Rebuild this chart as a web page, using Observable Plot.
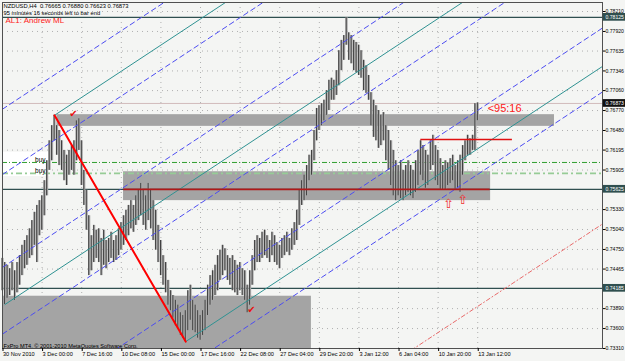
<!DOCTYPE html>
<html><head><meta charset="utf-8">
<script src="https://cdn.jsdelivr.net/npm/d3@7"></script>
<script src="https://cdn.jsdelivr.net/npm/@observablehq/plot@0.6"></script>
<style>html,body{margin:0;padding:0;background:#f4f5f3;overflow:hidden}</style>
</head><body><div id="chart"></div>
<script>
// ---- bar data (NZDUSD H4), one entry per bar ----
const hi = [
0.7462,0.7456,0.7452,0.7447,0.7456,0.7444,0.7456,0.7466,0.7481,0.7488,
0.7495,0.7505,0.7517,0.7529,0.7539,0.7546,0.7553,0.7575,0.7604,0.7633,
0.7655,0.7670,0.7655,0.7648,0.7633,0.7619,0.7612,0.7619,0.7626,0.7633,
0.7662,0.7665,0.7633,0.7590,0.7561,0.7524,0.7495,0.7510,0.7503,0.7505,
0.7491,0.7503,0.7488,0.7491,0.7500,0.7488,0.7495,0.7505,0.7514,0.7524,
0.7532,0.7539,0.7546,0.7539,0.7553,0.7561,0.7571,0.7561,0.7553,0.7571,
0.7561,0.7546,0.7532,0.7510,0.7488,0.7466,0.7456,0.7430,0.7415,0.7408,
0.7401,0.7394,0.7383,0.7379,0.7386,0.7415,0.7423,0.7401,0.7394,0.7386,
0.7379,0.7386,0.7401,0.7423,0.7437,0.7444,0.7452,0.7466,0.7474,0.7481,
0.7476,0.7466,0.7462,0.7466,0.7459,0.7452,0.7456,0.7447,0.7444,0.7423,
0.7444,0.7466,0.7488,0.7495,0.7491,0.7500,0.7503,0.7495,0.7488,0.7500,
0.7495,0.7485,0.7481,0.7491,0.7495,0.7500,0.7491,0.7505,0.7514,0.7532,
0.7561,0.7575,0.7583,0.7597,0.7612,0.7619,0.7648,0.7680,0.7684,0.7687,
0.7692,0.7706,0.7721,0.7724,0.7721,0.7735,0.7764,0.7779,0.7786,0.7812,
0.7790,0.7786,0.7779,0.7776,0.7772,0.7764,0.7750,0.7742,0.7728,0.7703,
0.7692,0.7684,0.7677,0.7670,0.7674,0.7655,0.7648,0.7633,0.7619,0.7604,
0.7597,0.7604,0.7590,0.7597,0.7604,0.7597,0.7590,0.7604,0.7619,0.7633,
0.7626,0.7619,0.7612,0.7633,0.7641,0.7626,0.7619,0.7607,0.7597,0.7604,
0.7601,0.7607,0.7612,0.7597,0.7604,0.7612,0.7626,0.7633,0.7641,0.7636,
0.7641,0.7687,0.76880
];
const lo = [
0.7415,0.7395,0.7404,0.7408,0.7415,0.7401,0.7412,0.7423,0.7437,0.7447,
0.7452,0.7462,0.7466,0.7481,0.7456,0.7495,0.7503,0.7524,0.7553,0.7590,
0.7604,0.7633,0.7612,0.7597,0.7590,0.7575,0.7568,0.7583,0.7590,0.7583,
0.7604,0.7619,0.7568,0.7539,0.7503,0.7437,0.7444,0.7456,0.7462,0.7456,
0.7437,0.7452,0.7447,0.7456,0.7462,0.7456,0.7459,0.7466,0.7474,0.7481,
0.7488,0.7495,0.7505,0.7500,0.7510,0.7517,0.7524,0.7510,0.7503,0.7517,
0.7505,0.7488,0.7474,0.7456,0.7437,0.7423,0.7412,0.7394,0.7386,0.7375,
0.7364,0.7360,0.7350,0.7346,0.7341,0.7357,0.7372,0.7357,0.7354,0.7346,
0.7343,0.7350,0.7357,0.7379,0.7394,0.7401,0.7408,0.7415,0.7430,0.7437,
0.7444,0.7430,0.7423,0.7415,0.7412,0.7408,0.7415,0.7408,0.7401,0.7383,
0.7394,0.7423,0.7444,0.7456,0.7456,0.7462,0.7466,0.7462,0.7456,0.7466,
0.7456,0.7452,0.7447,0.7462,0.7466,0.7471,0.7466,0.7474,0.7481,0.7488,
0.7510,0.7539,0.7546,0.7553,0.7575,0.7583,0.7604,0.7633,0.7648,0.7655,
0.7662,0.7670,0.7677,0.7692,0.7692,0.7699,0.7713,0.7735,0.7750,0.7772,
0.7750,0.7745,0.7735,0.7732,0.7728,0.7724,0.7706,0.7702,0.7692,0.7655,
0.7638,0.7633,0.7622,0.7626,0.7633,0.7604,0.7590,0.7568,0.7553,0.7546,
0.7553,0.7549,0.7546,0.7553,0.7558,0.7553,0.7549,0.7558,0.7568,0.7583,
0.7575,0.7564,0.7568,0.7590,0.7597,0.7575,0.7568,0.7561,0.7561,0.7561,
0.7568,0.7571,0.7575,0.7561,0.7564,0.7558,0.7583,0.7604,0.7612,0.7612,
0.7619,0.7619,0.76623
];

// ---- axes ----
const timeLabels = ["30 Nov 2010","3 Dec 00:00","7 Dec 16:00","10 Dec 08:00","15 Dec 00:00","17 Dec 16:00","22 Dec 08:00","27 Dec 04:00","29 Dec 20:00","3 Jan 12:00","6 Jan 04:00","10 Jan 20:00","13 Jan 12:00"];
const barsPerLabel = 16;
const priceTicks = [0.78210,0.77920,0.77635,0.77346,0.77060,0.76770,0.76480,0.76195,0.75905,0.75330,0.75040,0.74750,0.74465,0.73890,0.73600,0.73310];
const xMax = 242.4;            // bar slots visible incl. right shift
const yDomain = [0.73310, 0.78341];

// ---- chart objects ----
const levelLines = [0.78125, 0.75625, 0.74185];
const bidPrice = 0.76873;
const buyLevels = [0.76015, 0.75855];
const zoneStart = [22, 48.9, -1];
const zoneEnd   = [223, 197.2, 124.8];
const zoneTop   = [0.7671, 0.7588, 0.7407];
const zoneBot   = [0.7654, 0.7546, 0.7300];
const forkIdx   = [1, 21, 74];
const forkPrice = [0.7395, 0.7670, 0.7341];
const warnAt0   = [0.7679, 0.7584, 0.7449, 0.7352, 0.7221, 0.7128];
const redDashAt0 = 0.6936;
const resistStart = 169, resistEnd = 206, resistPrice = 0.7635;
const supportStart = 49, supportEnd = 197;
const checkIdx = [28.7, 100.6], checkPrice = [0.7672, 0.7388];
const arrowIdx = [180.2, 185.9], arrowPrice = [0.7541, 0.7547];
const timerIdx = 196, timerPrice = 0.7680, timerText = "<95:16";
const header1 = "NZDUSD,H4  0.76665 0.76880 0.76623 0.76873";
const header2 = "95 minutes 16 seconds left to bar end";
const header3 = "AL1: Andrew ML";
const footer = "FxPro MT4, © 2001-2010 MetaQuotes Software Corp.";

// ---- derived ----
const bars = hi.map((h, i) => ({i, hi: h, lo: lo[i]}));
const tickIdx = timeLabels.map((d, k) => k * barsPerLabel);
const midIdx = (forkIdx[1] + forkIdx[2]) / 2, midP = (forkPrice[1] + forkPrice[2]) / 2;
const slope = (midP - forkPrice[0]) / (midIdx - forkIdx[0]);
const ray = (i0, p0) => [{i: i0, p: p0}, {i: xMax, p: p0 + slope * (xMax - i0)}];
const zones = zoneStart.map((s, k) => ({i1: s, i2: zoneEnd[k], p1: zoneTop[k], p2: zoneBot[k]}));
const px = xMax / 600; // index units per pixel

const marks = [
  Plot.gridY(priceTicks, {stroke: "#b0b0b0", strokeOpacity: 1, strokeDasharray: "1,4"}),
  Plot.gridX(tickIdx, {stroke: "#b0b0b0", strokeOpacity: 1, strokeDasharray: "1,4"}),
  Plot.rect(zones, {x1: "i1", x2: "i2", y1: "p1", y2: "p2", fill: "#a4a4a4", clip: true}),
  Plot.rect([0], {x1: -1, x2: 19.4, y1: () => buyLevels[0] + 0.0015, y2: () => buyLevels[1] - 0.00045, fill: "#ffffff", clip: true}),
  Plot.ruleY([bidPrice], {stroke: "#d2bcbc", strokeWidth: 1}),
  Plot.ruleY(levelLines, {stroke: "#2f4f4f", strokeWidth: 1.3}),
  Plot.ruleY([buyLevels[0]], {stroke: "#2e9e2e", strokeWidth: 1, strokeDasharray: "5,2,1,2"}),
  Plot.ruleY([buyLevels[1]], {stroke: "#96cc96", strokeWidth: 1.8, strokeDasharray: "6,3,2,3"}),
  Plot.ruleX(bars, {x: "i", y1: "lo", y2: "hi", stroke: "#ababab", strokeWidth: 2.3}),
  Plot.ruleX(bars, {x: "i", y1: "lo", y2: "hi", stroke: "#333333", strokeWidth: 0.9, dx: -0.4}),
  ...forkIdx.map((d, k) => Plot.line(ray(d, forkPrice[k]), {x: "i", y: "p", stroke: "#2f9292", strokeWidth: 1, clip: true})),
  ...warnAt0.map(c => Plot.line(ray(0, c), {x: "i", y: "p", stroke: "#4c4cf2", strokeWidth: 1, strokeDasharray: "5,3.5", clip: true})),
  Plot.line(ray(0, redDashAt0), {x: "i", y: "p", stroke: "#e86a6a", strokeWidth: 1, strokeDasharray: "4,2.5,1,2.5", clip: true}),
  Plot.line([{i: forkIdx[1], p: forkPrice[1]}, {i: forkIdx[2], p: forkPrice[2]}], {x: "i", y: "p", stroke: "#ff0000", strokeWidth: 2}),
  Plot.ruleY([resistPrice], {x1: resistStart, x2: resistEnd, stroke: "#e01010", strokeWidth: 1.5}),
  Plot.ruleY([levelLines[1]], {x1: supportStart, x2: supportEnd, stroke: "#b01818", strokeWidth: 1.8}),
  Plot.text(buyLevels, {x: 17.4, y: d => d, text: () => "buy", textAnchor: "end", lineAnchor: "bottom", dy: -0.5, fontSize: 6.5, fill: "#000"}),
  Plot.text(checkIdx.map((d, k) => ({i: d, p: checkPrice[k]})), {x: "i", y: "p", text: () => "✔", fill: "#e81010", fontSize: 10, fontFamily: "DejaVu Sans"}),
  Plot.text(arrowIdx.map((d, k) => ({i: d, p: arrowPrice[k]})), {x: "i", y: "p", text: () => "⇧", fill: "#f03030", fontSize: 13, fontFamily: "DejaVu Sans"}),
  Plot.text([timerText], {x: timerIdx, y: timerPrice, text: d => d, fill: "#ff2020", fontSize: 11, textAnchor: "start"}),
  Plot.text([header1], {frameAnchor: "top-left", dx: 1, dy: 1, lineAnchor: "top", textAnchor: "start", fontSize: 5.8, fill: "#000"}),
  Plot.text([header2], {frameAnchor: "top-left", dx: 1, dy: 8, lineAnchor: "top", textAnchor: "start", fontSize: 5.8, fill: "#000"}),
  Plot.text([header3], {frameAnchor: "top-left", dx: 3, dy: 14.5, lineAnchor: "top", textAnchor: "start", fontSize: 8, fill: "#ff2020"}),
  Plot.text([footer], {frameAnchor: "bottom-left", dx: 1, dy: -0.5, lineAnchor: "bottom", textAnchor: "start", fontSize: 5.6, fill: "#000"}),
  Plot.frame({stroke: "#505050", strokeWidth: 1}),
  Plot.axisX({ticks: tickIdx, tickFormat: d => timeLabels[Math.round(d / barsPerLabel)], textAnchor: "start", tickSize: 3, tickPadding: 1, dx: 0.5, label: null, fontSize: 5.6}),
  Plot.axisY({anchor: "right", ticks: priceTicks, tickFormat: d => d.toFixed(5), tickSize: 2.5, tickPadding: 0.5, label: null, fontSize: 5.1}),
  Plot.rect(levelLines, {x1: xMax + 0.3, x2: xMax + 23 * px, y1: d => d - 0.00056, y2: d => d + 0.00056, fill: "#2f4f4f"}),
  Plot.rect([bidPrice], {x1: xMax + 0.3, x2: xMax + 23 * px, y1: d => d - 0.00056, y2: d => d + 0.00056, fill: "#101010"}),
  Plot.text([...levelLines, bidPrice], {x: xMax, y: d => d, text: d => d.toFixed(5), dx: 3, textAnchor: "start", fill: "#ffffff", fontSize: 5.1})
];

const chart = Plot.plot({
  width: 625, height: 361,
  marginLeft: 2, marginRight: 23, marginTop: 2, marginBottom: 13,
  x: {domain: [0, xMax], axis: null},
  y: {domain: yDomain, axis: null},
  style: {background: "#f4f5f3", fontFamily: "'Liberation Sans', Arial, sans-serif", fontSize: "5.6px", color: "#000", overflow: "visible"},
  marks
});
document.getElementById("chart").appendChild(chart);
</script>
</body></html>
